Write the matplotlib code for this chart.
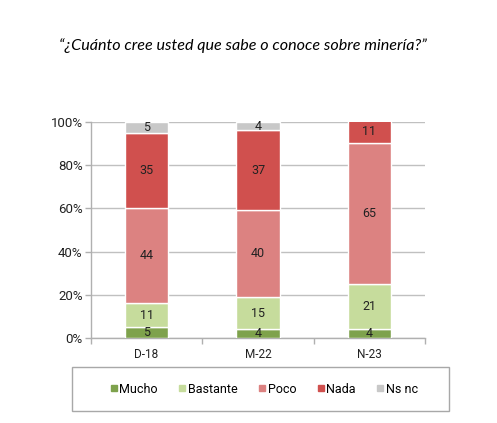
import matplotlib
matplotlib.use("Agg")
import matplotlib.pyplot as plt
import numpy as np
from matplotlib.lines import Line2D
from matplotlib.patches import Rectangle

categories = ["D-18", "M-22", "N-23"]
series_names = ["Mucho", "Bastante", "Poco", "Nada", "Ns nc"]
mucho = [5, 4, 4]
bastante = [11, 15, 21]
poco = [44, 40, 65]
nada = [35, 37, 11]
nsnc = [5, 4, 0]
colors = ["#7ea24c", "#c6dc9c", "#dc8281", "#d0504e", "#c8c8c8"]
yticks = [0, 20, 40, 60, 80, 100]
ytick_labels = ["0%", "20%", "40%", "60%", "80%", "100%"]
title = "\u201c\u00bfCu\u00e1nto cree usted que sabe o conoce sobre miner\u00eda?\u201d"

plt.rcParams['font.family'] = ['Roboto', 'DejaVu Sans']

fig = plt.figure(figsize=(4.97, 4.23), dpi=100)
ax = fig.add_axes([0.183, 0.201, 0.672, 0.511])

x = np.arange(len(categories))
data = [mucho, bastante, poco, nada, nsnc]
bottom = np.zeros(len(categories))
for name, vals, c in zip(series_names, data, colors):
    vals = np.array(vals, dtype=float)
    ax.bar(x, vals, 0.39, bottom=bottom, color=c, edgecolor="white",
           linewidth=1.0, zorder=3, label=name)
    for xi, v, b in zip(x, vals, bottom):
        if v > 0:
            ax.text(xi, b + v / 2, f"{int(v)}", ha="center", va="center",
                    fontsize=9, color="#222222", zorder=4)
    bottom += vals

ax.set_xlim(-0.5, 2.5)
ax.set_ylim(0, 100)
ax.set_yticks(yticks)
ax.set_yticklabels(ytick_labels, fontsize=9.5, color="#222222")
ax.set_xticks(x)
ax.set_xticklabels(categories, fontsize=8.5, color="#222222")
ax.set_xticks([-0.5, 0.5, 1.5, 2.5], minor=True)
ax.tick_params(axis="x", which="major", length=0, pad=7)
ax.tick_params(axis="x", which="minor", length=4, color="#b0b0b0", width=1)
ax.tick_params(axis="y", length=4, color="#b0b0b0", width=1, pad=2)
ax.yaxis.grid(True, color="#c0c0c0", linewidth=1, zorder=0)
for s in ["top", "right"]:
    ax.spines[s].set_visible(False)
for s in ["left", "bottom"]:
    ax.spines[s].set_color("#b0b0b0")
    ax.spines[s].set_linewidth(1)

fig.text(0.489, 0.893, title, ha="center", va="center", fontsize=11.6,
         style="italic", family=["Lato", "DejaVu Sans"])

# legend frame
W, H = 497.0, 423.0
fig.patches.append(Rectangle((72 / W, 1 - 411 / H), (449 - 72) / W, (411 - 367) / H,
                             transform=fig.transFigure, fill=False,
                             edgecolor="#a8a8a8", linewidth=1))

handles = [Line2D([0], [0], marker="s", linestyle="none", markersize=4,
                  markerfacecolor=c, markeredgecolor=c) for c in colors]
leg = fig.legend(handles, series_names, loc="center",
                 bbox_to_anchor=(264 / W, 1 - 389 / H), ncol=5, fontsize=9,
                 frameon=False, handlelength=0.6, handletextpad=0.15,
                 columnspacing=1.65)

fig.savefig("out.png", dpi=100)
